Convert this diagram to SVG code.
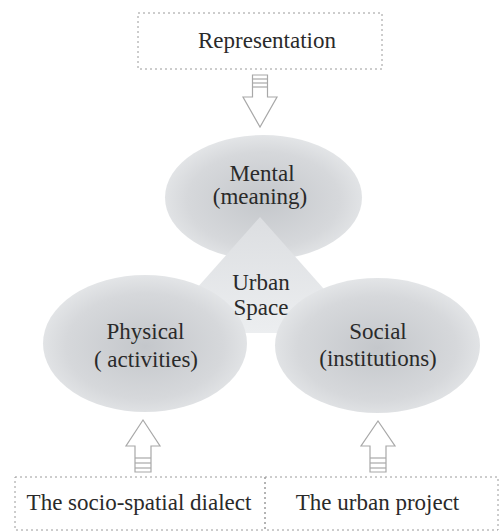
<svg xmlns="http://www.w3.org/2000/svg" width="499" height="531" viewBox="0 0 499 531">
<defs>
<radialGradient id="eg" cx="50%" cy="52%" r="55%">
<stop offset="0" stop-color="#c4c7cb"/>
<stop offset="0.7" stop-color="#d6d8db"/>
<stop offset="1" stop-color="#e6e8ea"/>
</radialGradient>
<linearGradient id="tg" x1="0" y1="0" x2="0" y2="1">
<stop offset="0" stop-color="#dcdee1"/>
<stop offset="1" stop-color="#eceef0"/>
</linearGradient>
</defs>
<style>
.box{fill:none;stroke:#9a9a9a;stroke-width:1;stroke-dasharray:2 3}
.arr{fill:#fff;stroke:#a8a8a8;stroke-width:1.2}
.str{stroke:#a8a8a8;stroke-width:1.2}
.ell{fill:url(#eg)}
</style>
<rect width="499" height="531" fill="#fff"/>
<g font-family="Liberation Serif, Times New Roman, serif" font-size="23" fill="#2a2a2a" text-anchor="middle">
<g id="representation">
<rect class="box" x="138" y="13" width="244" height="56"/>
<text x="267" y="48">Representation</text>
</g>
<g id="mental">
<ellipse class="ell" cx="263.5" cy="197.5" rx="98.5" ry="62.5"/>
<text x="262" y="181">Mental</text>
<text x="260" y="204">(meaning)</text>
</g>
<g id="urban-space">
<polygon points="260,217 157,333 363,333" fill="url(#tg)"/>
</g>
<g id="physical">
<ellipse class="ell" cx="145" cy="343.5" rx="102" ry="68.5"/>
<text x="145.5" y="339">Physical</text>
<text x="146" y="367">( activities)</text>
</g>
<g id="social">
<ellipse class="ell" cx="377.5" cy="345.5" rx="102.5" ry="67.5"/>
<text x="378" y="339">Social</text>
<text x="378" y="366">(institutions)</text>
</g>
<g id="urban-space-label">
<text x="261" y="290">Urban</text>
<text x="261" y="315">Space</text>
</g>
<g id="socio-spatial">
<rect class="box" x="15" y="477" width="250" height="53"/>
<text x="139" y="510">The socio-spatial dialect</text>
</g>
<g id="urban-project">
<rect class="box" x="265" y="477" width="233" height="53"/>
<text x="377.5" y="510">The urban project</text>
</g>
</g>
<g id="connectors">
<g transform="translate(260,0)">
<polygon class="arr" points="-7.5,75 7.5,75 7.5,97 17,97 0,127 -17,97 -7.5,97"/>
<line class="str" x1="-7.5" y1="79" x2="7.5" y2="79"/>
<line class="str" x1="-7.5" y1="83" x2="7.5" y2="83"/>
<line class="str" x1="-7.5" y1="87" x2="7.5" y2="87"/>
</g>
<g transform="translate(143,0)">
<polygon class="arr" points="-8,472 8,472 8,446 17,446 0,420 -17,446 -8,446"/>
<line class="str" x1="-8" y1="468" x2="8" y2="468"/>
<line class="str" x1="-8" y1="463" x2="8" y2="463"/>
<line class="str" x1="-8" y1="458" x2="8" y2="458"/>
</g>
<g transform="translate(378,0)">
<polygon class="arr" points="-8,472 8,472 8,446 17,446 0,421 -17,446 -8,446"/>
<line class="str" x1="-8" y1="468" x2="8" y2="468"/>
<line class="str" x1="-8" y1="463" x2="8" y2="463"/>
<line class="str" x1="-8" y1="458" x2="8" y2="458"/>
</g>
</g>
</svg>
